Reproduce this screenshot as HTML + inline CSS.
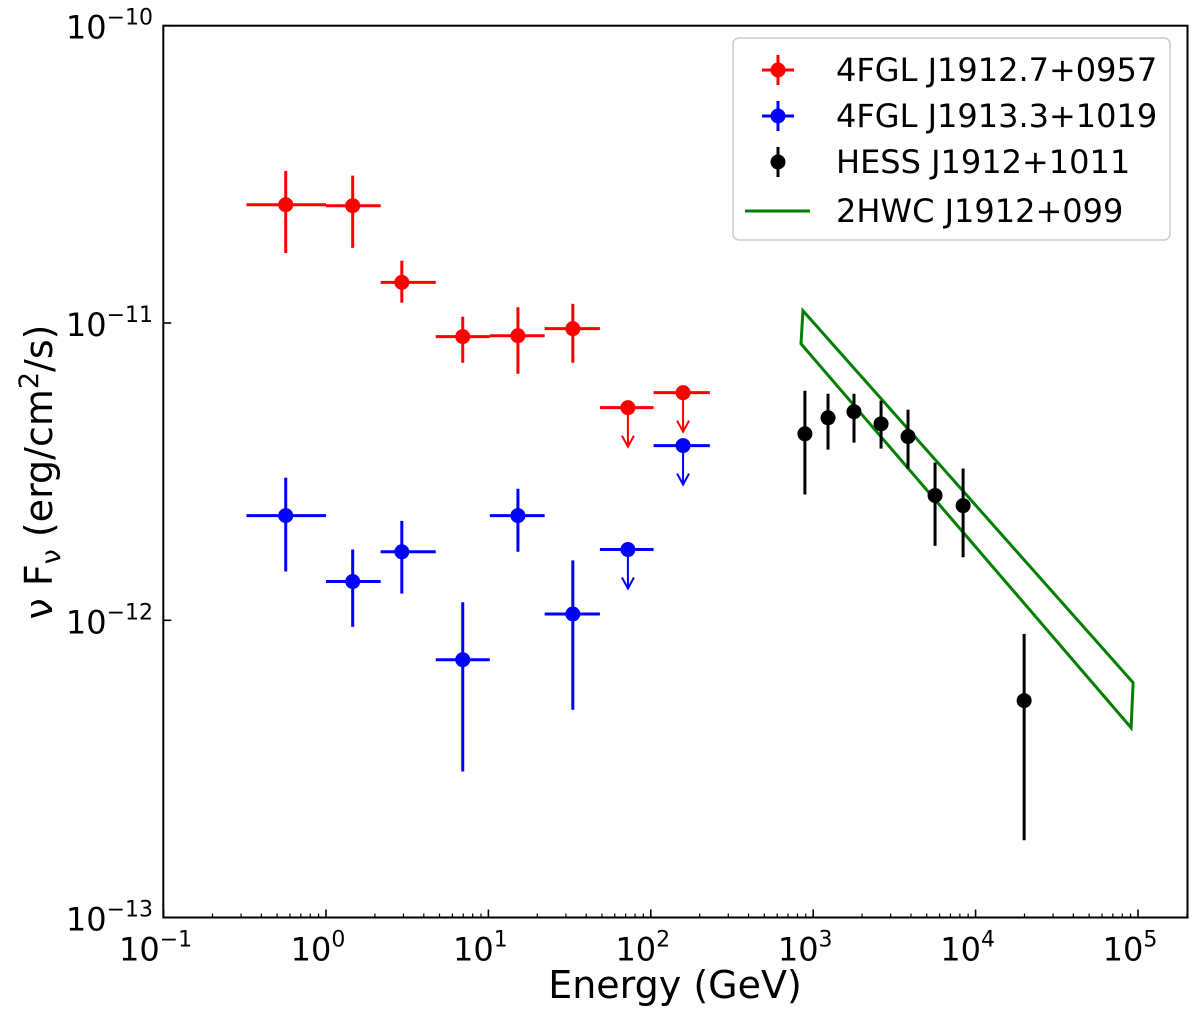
<!DOCTYPE html>
<html><head><meta charset="utf-8"><style>
html,body{margin:0;padding:0;background:#fff;}
svg{display:block;font-family:"DejaVu Sans","Liberation Sans",sans-serif;}
</style></head><body>
<svg id="chart" width="1200" height="1016" viewBox="0 0 1200 1016" xmlns="http://www.w3.org/2000/svg">
<g id="marks"></g>
<g id="axes"></g>
<g id="legend"></g>
</svg>
<script>
// ---- data ----
const redE = [0.565, 1.46, 2.93, 6.95, 15.2, 33.1];
const redLo = [0.324, 1.0, 2.17, 4.74, 10.2, 22.2];
const redHi = [1.0, 2.17, 4.74, 10.2, 22.2, 48.6];
const redF = [2.50e-11, 2.48e-11, 1.37e-11, 9.0e-12, 9.06e-12, 9.57e-12];
const redFlo = [1.72e-11, 1.79e-11, 1.17e-11, 7.35e-12, 6.75e-12, 7.35e-12];
const redFhi = [3.25e-11, 3.13e-11, 1.62e-11, 1.05e-11, 1.13e-11, 1.16e-11];
const redUL_E = [72.3, 158];
const redUL_lo = [48.6, 104];
const redUL_hi = [104, 231];
const redUL_F = [5.19e-12, 5.83e-12];

const blueE = [0.565, 1.46, 2.93, 6.95, 15.2, 33.1];
const blueLo = [0.324, 1.0, 2.17, 4.74, 10.2, 22.2];
const blueHi = [1.0, 2.17, 4.74, 10.2, 22.2, 48.6];
const blueF = [2.25e-12, 1.35e-12, 1.70e-12, 7.37e-13, 2.25e-12, 1.05e-12];
const blueFlo = [1.46e-12, 0.95e-12, 1.23e-12, 3.10e-13, 1.70e-12, 5.0e-13];
const blueFhi = [3.02e-12, 1.73e-12, 2.16e-12, 1.15e-12, 2.77e-12, 1.59e-12];
const blueUL_E = [72.3, 158];
const blueUL_lo = [48.6, 104];
const blueUL_hi = [104, 231];
const blueUL_F = [1.73e-12, 3.87e-12];

const hessE = [889, 1234, 1783, 2617, 3837, 5627, 8375, 19900];
const hessF = [4.24e-12, 4.80e-12, 5.03e-12, 4.58e-12, 4.15e-12, 2.63e-12, 2.43e-12, 5.37e-13];
const hessFlo = [2.65e-12, 3.75e-12, 3.96e-12, 3.78e-12, 3.24e-12, 1.78e-12, 1.63e-12, 1.82e-13];
const hessFhi = [5.92e-12, 5.78e-12, 5.78e-12, 5.48e-12, 5.11e-12, 3.39e-12, 3.24e-12, 9.0e-13];

const hwcE = [865, 93300];
const hwcUpper = [1.10e-11, 6.17e-13];
const hwcLower = [8.52e-12, 4.35e-13];

const xTickExp = [-1, 0, 1, 2, 3, 4, 5];
const yTickExp = [-10, -11, -12, -13];
const legendLabels = ["4FGL J1912.7+0957", "4FGL J1913.3+1019", "HESS J1912+1011", "2HWC J1912+099"];

// ---- axes ----
const L = 163.3, R = 1187.5, T = 25.7, B = 917.5;
const X0 = 326.0, XD = 162.4;
const Y10 = 25.7, YD = 297.3;
function xs(e){ return X0 + Math.log10(e) * XD; }
function ys(f){ return Y10 + (-10 - Math.log10(f)) * YD; }

const NS = "http://www.w3.org/2000/svg";
function mk(tag, attrs, parent){
  const el = document.createElementNS(NS, tag);
  for (const k in attrs) el.setAttribute(k, attrs[k]);
  parent.appendChild(el);
  return el;
}
const marks = document.getElementById('marks');
const axes = document.getElementById('axes');
const legend = document.getElementById('legend');

function errPoint(parent, x, lo, hi, f, flo, fhi, color, name){
  const g = mk('g', {}, parent);
  
  
  if (lo !== null) mk('line', {x1: xs(lo), x2: xs(hi), y1: ys(f), y2: ys(f), stroke: color, 'stroke-width': 3}, g);
  mk('line', {x1: xs(x), x2: xs(x), y1: ys(flo), y2: ys(fhi), stroke: color, 'stroke-width': 3}, g);
  mk('circle', {cx: xs(x), cy: ys(f), r: 7.5, fill: color}, g);
}
function ulPoint(parent, x, lo, hi, f, color, name){
  const g = mk('g', {}, parent);
  
  
  const cx = xs(x), cy = ys(f);
  mk('line', {x1: xs(lo), x2: xs(hi), y1: cy, y2: cy, stroke: color, 'stroke-width': 3}, g);
  mk('line', {x1: cx, x2: cx, y1: cy, y2: cy + 38, stroke: color, 'stroke-width': 2}, g);
  mk('polyline', {points: `${cx-6},${cy+28} ${cx},${cy+39} ${cx+6},${cy+28}`, fill: 'none', stroke: color, 'stroke-width': 2}, g);
  mk('circle', {cx: cx, cy: cy, r: 7.5, fill: color}, g);
}

const poly = mk('polygon', {
  points: `${xs(hwcE[0])},${ys(hwcUpper[0])} ${xs(hwcE[1])},${ys(hwcUpper[1])} ${xs(hwcE[1])-2},${ys(hwcLower[1])} ${xs(hwcE[0])-2},${ys(hwcLower[0])}`,
  fill: 'none', stroke: '#008000', 'stroke-width': 3
}, marks);



redE.forEach((e, i) => errPoint(marks, e, redLo[i], redHi[i], redF[i], redFlo[i], redFhi[i], '#ff0000', 'red-point-' + i));
redUL_E.forEach((e, i) => ulPoint(marks, e, redUL_lo[i], redUL_hi[i], redUL_F[i], '#ff0000', 'red-upper-limit-' + i));
blueE.forEach((e, i) => errPoint(marks, e, blueLo[i], blueHi[i], blueF[i], blueFlo[i], blueFhi[i], '#0000ff', 'blue-point-' + i));
blueUL_E.forEach((e, i) => ulPoint(marks, e, blueUL_lo[i], blueUL_hi[i], blueUL_F[i], '#0000ff', 'blue-upper-limit-' + i));
hessE.forEach((e, i) => errPoint(marks, e, null, null, hessF[i], hessFlo[i], hessFhi[i], '#000000', 'hess-point-' + i));

const frame = mk('rect', {x: L, y: T, width: R - L, height: B - T, fill: 'none', stroke: '#000', 'stroke-width': 2}, axes);



xTickExp.forEach(p => {
  const x = xs(Math.pow(10, p));
  mk('line', {x1: x, x2: x, y1: B, y2: B - 8, stroke: '#000', 'stroke-width': 1.6}, axes);
  for (let m = 2; m <= 9; m++) {
    const xm = xs(m * Math.pow(10, p));
    if (xm < R) mk('line', {x1: xm, x2: xm, y1: B, y2: B - 4, stroke: '#000', 'stroke-width': 1.2}, axes);
  }
  const t = mk('text', {x: x - 8, y: B + 43, 'font-size': 32, 'text-anchor': 'middle', fill: '#000'}, axes);
  
  
  t.innerHTML = `10<tspan dy="-14" font-size="22">${p < 0 ? '−' + (-p) : p}</tspan>`;
});
yTickExp.forEach(p => {
  const y = ys(Math.pow(10, p));
  mk('line', {x1: L, x2: L + 8, y1: y, y2: y, stroke: '#000', 'stroke-width': 1.6}, axes);
  if (p > -10) {
    for (let m = 2; m <= 9; m++) {
      const ym = ys(m * Math.pow(10, p));
      mk('line', {x1: L, x2: L + 4, y1: ym, y2: ym, stroke: '#000', 'stroke-width': 1.2}, axes);
    }
  }
  const t = mk('text', {x: 153, y: y + 13, 'font-size': 32, 'text-anchor': 'end', fill: '#000'}, axes);
  
  
  t.innerHTML = `10<tspan dy="-14" font-size="22">−${-p}</tspan>`;
});

const xt = mk('text', {x: 675, y: 998, 'font-size': 38, 'text-anchor': 'middle', fill: '#000'}, axes);


xt.textContent = 'Energy (GeV)';
const yt = mk('text', {x: 0, y: 0, 'font-size': 38, 'text-anchor': 'middle', fill: '#000', transform: 'translate(52,472) rotate(-90)'}, axes);


yt.innerHTML = 'ν F<tspan dy="8" font-size="27">ν</tspan><tspan dy="-8"> (erg/cm</tspan><tspan dy="-14" font-size="27">2</tspan><tspan dy="14">/s)</tspan>';

const lb = mk('rect', {x: 733, y: 38, width: 437, height: 202, rx: 6, fill: '#fff', stroke: '#ccc', 'stroke-width': 1.5}, legend);


const legColors = ['#ff0000', '#0000ff', '#000000', '#008000'];
const legY = [70, 116, 162, 211];
legendLabels.forEach((lab, i) => {
  const g = mk('g', {}, legend);
  
  
  const y = legY[i], c = legColors[i];
  if (i < 2) {
    mk('line', {x1: 762, x2: 794, y1: y, y2: y, stroke: c, 'stroke-width': 3}, g);
    mk('line', {x1: 778, x2: 778, y1: y - 15, y2: y + 15, stroke: c, 'stroke-width': 3}, g);
    mk('circle', {cx: 778, cy: y, r: 7.5, fill: c}, g);
  } else if (i === 2) {
    mk('line', {x1: 778, x2: 778, y1: y - 15, y2: y + 15, stroke: c, 'stroke-width': 3}, g);
    mk('circle', {cx: 778, cy: y, r: 7.5, fill: c}, g);
  } else {
    mk('line', {x1: 745, x2: 810, y1: y, y2: y, stroke: c, 'stroke-width': 3}, g);
  }
  const t = mk('text', {x: 836, y: y + 11, 'font-size': 32, fill: '#000'}, g);
  t.textContent = lab;
});
</script>
</body></html>
